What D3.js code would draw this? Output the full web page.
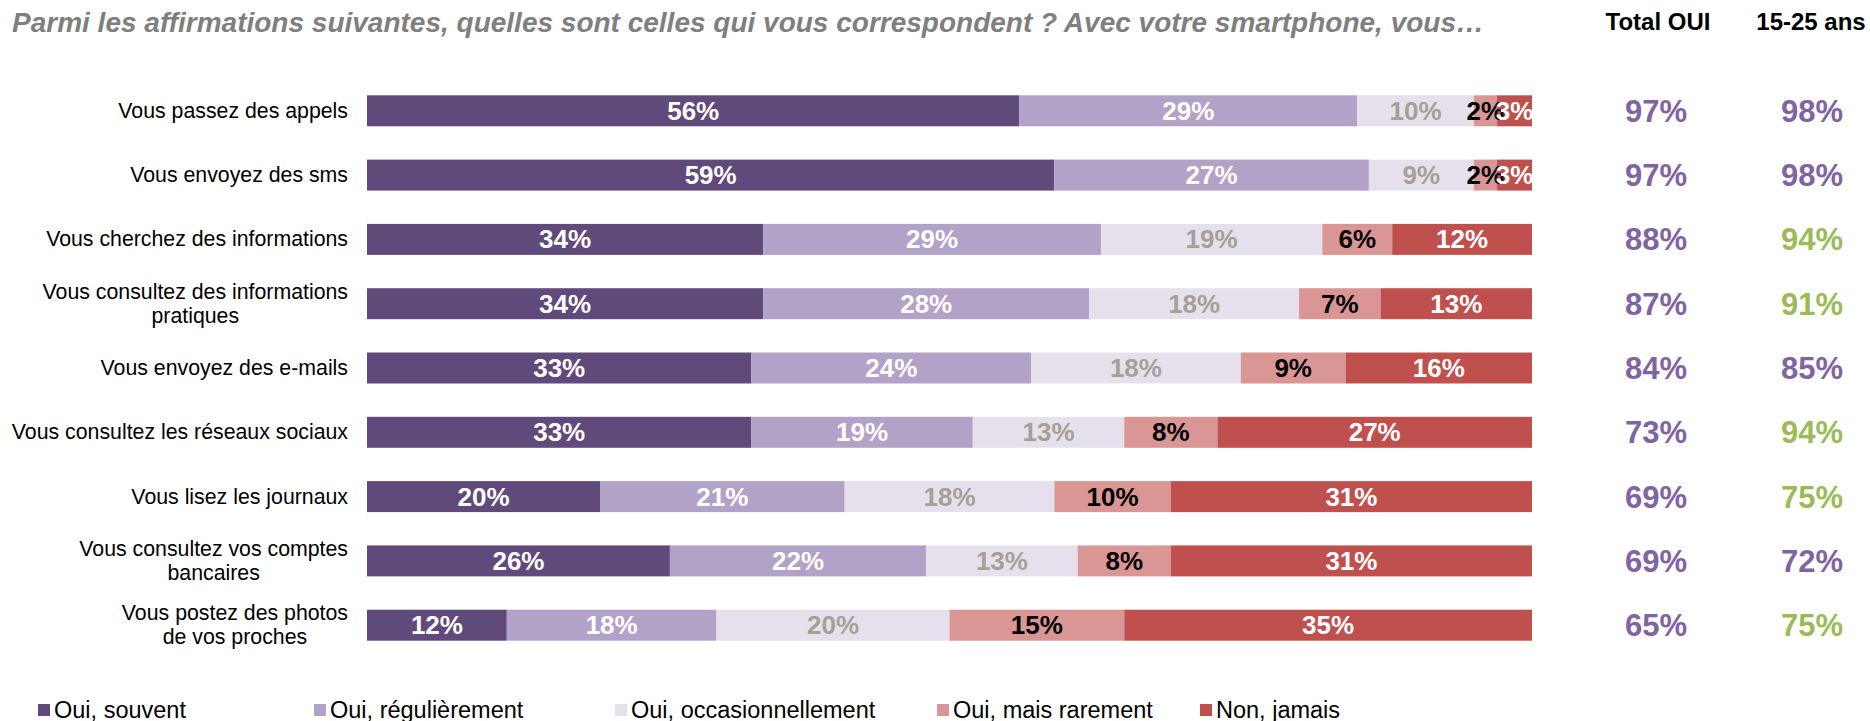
<!DOCTYPE html>
<html>
<head>
<meta charset="utf-8">
<script src="https://cdn.jsdelivr.net/npm/d3@7"></script>
<style>
  body { margin: 0; background: #fff; }
  svg { display: block; font-family: "Liberation Sans", Arial, sans-serif; }
</style>
</head>
<body>
<svg id="chart" width="1870" height="721"></svg>
<script>
// données
var categories = [
    "Vous passez des appels",
    "Vous envoyez des sms",
    "Vous cherchez des informations",
    "Vous consultez des informations|pratiques",
    "Vous envoyez des e-mails",
    "Vous consultez les réseaux sociaux",
    "Vous lisez les journaux",
    "Vous consultez vos comptes|bancaires",
    "Vous postez des photos|de vos proches"
];
var seriesNames = ["Oui, souvent", "Oui, régulièrement", "Oui, occasionnellement", "Oui, mais rarement", "Non, jamais"];
var souvent = [56, 59, 34, 34, 33, 33, 20, 26, 12];
var regulierement = [29, 27, 29, 28, 24, 19, 21, 22, 18];
var occasionnellement = [10, 9, 19, 18, 18, 13, 18, 13, 20];
var rarement = [2, 2, 6, 7, 9, 8, 10, 8, 15];
var jamais = [3, 3, 12, 13, 16, 27, 31, 31, 35];
var totalOui = [97, 97, 88, 87, 84, 73, 69, 69, 65];
var jeunes = [98, 98, 94, 91, 85, 94, 75, 72, 75];
var jeunesSignificatif = [false, false, true, true, false, true, true, false, true];

var colors = ["#604A7B", "#B3A2C7", "#E6E0EC", "#D99694", "#C0504D"];
var labelColors = ["#ffffff", "#ffffff", "#A5A096", "#000000", "#ffffff"];

var svg = d3.select("#chart");

var rows = categories.map(function (c, i) {
    return { cat: c, s0: souvent[i], s1: regulierement[i], s2: occasionnellement[i], s3: rarement[i], s4: jamais[i] };
});
var keys = ["s0", "s1", "s2", "s3", "s4"];
var stacked = d3.stack().keys(keys)(rows);

var x = d3.scaleLinear().domain([0, 100]).range([367, 1532]);
var y = d3.scaleBand().domain(categories).range([62, 674]).padding(0.518);

// titre
svg.append("text")
    .attr("x", 12).attr("y", 32)
    .attr("font-size", 28).attr("font-weight", "bold").attr("font-style", "italic")
    .attr("fill", "#7F7F7F")
    .text("Parmi les affirmations suivantes, quelles sont celles qui vous correspondent ? Avec votre smartphone, vous…");

svg.append("text").attr("x", 1658).attr("y", 30).attr("text-anchor", "middle")
    .attr("font-size", 24).attr("font-weight", "bold").text("Total OUI");
svg.append("text").attr("x", 1811).attr("y", 30).attr("text-anchor", "middle")
    .attr("font-size", 24).attr("font-weight", "bold").text("15-25 ans");

// barres
svg.append("clipPath").attr("id", "clipBars")
    .append("rect").attr("x", x(0)).attr("y", 0).attr("width", x(100) - x(0)).attr("height", 721);

var layers = svg.append("g").selectAll("g")
    .data(stacked).enter().append("g")
    .attr("fill", function (d, i) { return colors[i]; });

layers.selectAll("rect")
    .data(function (d) { return d; })
    .enter().append("rect")
    .attr("x", function (d) { return x(d[0]); })
    .attr("y", function (d) { return y(d.data.cat); })
    .attr("width", function (d) { return x(d[1]) - x(d[0]); })
    .attr("height", y.bandwidth());

var labels = svg.append("g").attr("clip-path", "url(#clipBars)");
stacked.forEach(function (layer, i) {
    labels.selectAll(null)
        .data(layer).enter().append("text")
        .attr("x", function (d) { return (x(d[0]) + x(d[1])) / 2; })
        .attr("y", function (d) { return y(d.data.cat) + y.bandwidth() / 2 + 9; })
        .attr("text-anchor", "middle")
        .attr("font-size", 26).attr("font-weight", "bold")
        .attr("fill", labelColors[i])
        .text(function (d) { return (d[1] - d[0]) + "%"; });
});

// libellés des lignes
categories.forEach(function (c) {
    var lines = c.split("|");
    var g = svg.append("g");
    var cy = y(c) + y.bandwidth() / 2;
    var texts = lines.map(function (l, j) {
        return g.append("text")
            .attr("y", cy + (j - (lines.length - 1) / 2) * 24 + 7)
            .attr("font-size", 21.3)
            .attr("text-anchor", "middle")
            .text(l);
    });
    var w = d3.max(texts, function (t) { return t.node().getComputedTextLength(); });
    texts.forEach(function (t) { t.attr("x", 348 - w / 2); });
});

// colonnes de droite
svg.append("g").selectAll("text")
    .data(totalOui).enter().append("text")
    .attr("x", 1656)
    .attr("y", function (d, i) { return y(categories[i]) + y.bandwidth() / 2 + 11; })
    .attr("text-anchor", "middle")
    .attr("font-size", 31).attr("font-weight", "bold")
    .attr("fill", "#8064A2")
    .text(function (d) { return d + "%"; });

svg.append("g").selectAll("text")
    .data(jeunes).enter().append("text")
    .attr("x", 1812)
    .attr("y", function (d, i) { return y(categories[i]) + y.bandwidth() / 2 + 11; })
    .attr("text-anchor", "middle")
    .attr("font-size", 31).attr("font-weight", "bold")
    .attr("fill", function (d, i) { return jeunesSignificatif[i] ? "#9BBB59" : "#8064A2"; })
    .text(function (d) { return d + "%"; });

// légende
var legendX = [38, 314, 615, 937, 1200];
var legend = svg.append("g").selectAll("g")
    .data(seriesNames).enter().append("g")
    .attr("transform", function (d, i) { return "translate(" + legendX[i] + ",710)"; });
legend.append("rect")
    .attr("x", 0).attr("y", -6).attr("width", 12).attr("height", 12)
    .attr("fill", function (d, i) { return colors[i]; });
legend.append("text")
    .attr("x", 16).attr("y", 8)
    .attr("font-size", 23.5)
    .text(function (d) { return d; });
</script>
</body>
</html>
